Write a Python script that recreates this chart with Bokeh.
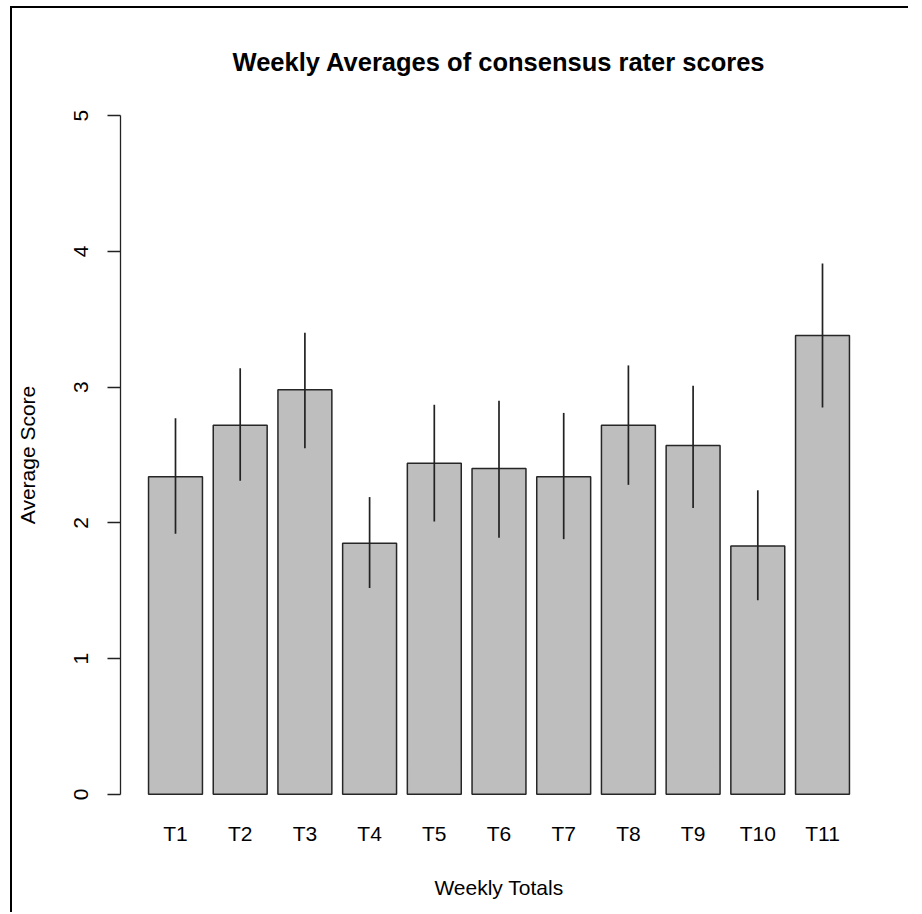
from bokeh.plotting import figure
from bokeh.models import FactorRange, Range1d, FixedTicker, ColumnDataSource
from bokeh.embed import file_html
from bokeh.resources import INLINE

weeks = ["T1", "T2", "T3", "T4", "T5", "T6", "T7", "T8", "T9", "T10", "T11"]
avg_score = [2.34, 2.72, 2.98, 1.85, 2.44, 2.40, 2.34, 2.72, 2.57, 1.83, 3.38]
err_upper = [2.77, 3.14, 3.40, 2.19, 2.87, 2.90, 2.81, 3.16, 3.01, 2.24, 3.91]
err_lower = [1.92, 2.31, 2.55, 1.52, 2.01, 1.89, 1.88, 2.28, 2.11, 1.43, 2.85]
y_ticks = [0, 1, 2, 3, 4, 5]

FONT = "Liberation Sans"

src = ColumnDataSource(dict(week=weeks, avg=avg_score, hi=err_upper, lo=err_lower))

p = figure(
    width=910, height=906,
    x_range=FactorRange(*weeks, range_padding=0.35, range_padding_units="absolute"),
    y_range=Range1d(-0.2, 5.2),
    title="Weekly Averages of consensus rater scores",
    output_backend="svg", toolbar_location=None,
    min_border_left=104, min_border_right=45, min_border_top=80, min_border_bottom=93,
)
# left and top edge lines of the original picture's frame
p.margin = (8, 0, 0, 12)
p.styles = {
    "box-shadow": "-2px -2px 0 0 #000000",
    "clip-path": "inset(-2px 14px 0px -2px)",
}

p.vbar(x="week", top="avg", bottom=0, width=1 / 1.2, source=src,
       fill_color="#bebebe", line_color="#262626", line_width=1.5)
p.segment(x0="week", y0="lo", x1="week", y1="hi", source=src,
          line_color="#222222", line_width=1.7)

p.grid.visible = False
p.outline_line_color = None
p.background_fill_color = "white"
p.border_fill_color = "white"

p.title.align = "center"
p.title.text_font = FONT
p.title.text_font_size = "25.5px"
p.title.text_font_style = "bold"
p.title.text_color = "#000000"
p.title.standoff = 25

ya = p.yaxis[0]
ya.ticker = FixedTicker(ticks=y_ticks)
ya.bounds = (0, 5)
ya.axis_line_color = "#222222"
ya.axis_line_width = 1.3
ya.major_tick_line_color = "#222222"
ya.major_tick_line_width = 1.3
ya.major_tick_out = 13
ya.major_tick_in = 0
ya.minor_tick_line_color = None
ya.major_label_orientation = "vertical"
ya.major_label_standoff = 19
ya.major_label_text_font = FONT
ya.major_label_text_font_size = "21px"
ya.major_label_text_color = "#000000"
ya.axis_label = "Average Score"
ya.axis_label_text_font = FONT
ya.axis_label_text_font_size = "21px"
ya.axis_label_text_font_style = "normal"
ya.axis_label_text_color = "#000000"
ya.axis_label_standoff = 33

xa = p.xaxis[0]
xa.axis_line_color = None
xa.major_tick_line_color = None
xa.major_tick_out = 0
xa.major_tick_in = 0
xa.minor_tick_line_color = None
xa.major_label_standoff = 0
xa.major_label_text_font = FONT
xa.major_label_text_font_size = "21px"
xa.major_label_text_color = "#000000"
xa.axis_label = "Weekly Totals"
xa.axis_label_text_font = FONT
xa.axis_label_text_font_size = "21px"
xa.axis_label_text_font_style = "normal"
xa.axis_label_text_color = "#000000"
xa.axis_label_standoff = 28

open("out.html", "w").write(file_html(p, INLINE))
